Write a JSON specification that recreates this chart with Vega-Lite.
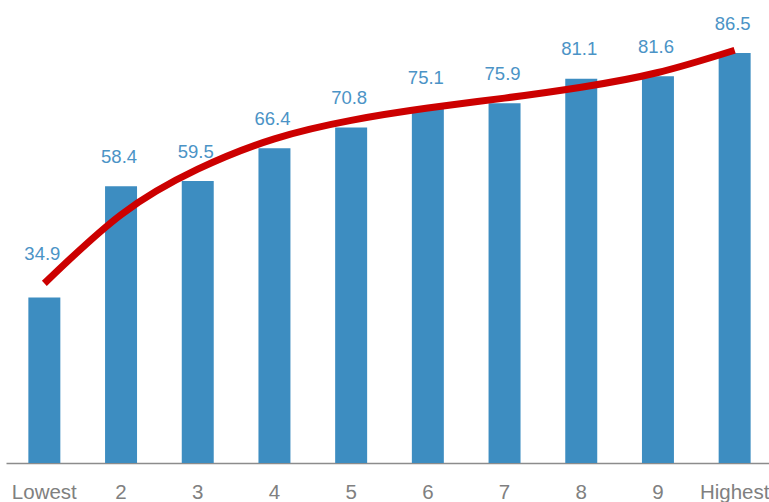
{
  "$schema": "https://vega.github.io/schema/vega-lite/v6.json",
  "autosize": "none",
  "padding": {"left": 6, "top": 0, "right": 0, "bottom": 39},
  "width": 767,
  "height": 463,
  "background": "white",
  "config": {"view": {"stroke": null}, "font": "Liberation Sans"},
  "data": {
    "values": [
      {"group": "Lowest", "value": 34.9, "trend": 37.9},
      {"group": "2", "value": 58.4, "trend": 52.4},
      {"group": "3", "value": 59.5, "trend": 62.0},
      {"group": "4", "value": 66.4, "trend": 68.4},
      {"group": "5", "value": 70.8, "trend": 72.3},
      {"group": "6", "value": 75.1, "trend": 74.9},
      {"group": "7", "value": 75.9, "trend": 77.0},
      {"group": "8", "value": 81.1, "trend": 79.3},
      {"group": "9", "value": 81.6, "trend": 82.4},
      {"group": "Highest", "value": 86.5, "trend": 87.1}
    ]
  },
  "encoding": {
    "x": {
      "field": "group",
      "type": "nominal",
      "sort": null,
      "scale": {"paddingInner": 0.583, "paddingOuter": 0.2915},
      "axis": {
        "title": null,
        "labelAngle": 0,
        "ticks": false,
        "labelPadding": 35,
        "labelBaseline": "alphabetic",
        "labelFontSize": 20.5,
        "labelColor": "#808080",
        "labelFont": "Liberation Sans",
        "domainColor": "#8c8c8c",
        "domainWidth": 1.5,
        "domainOpacity": 1,
        "grid": false
      }
    }
  },
  "layer": [
    {
      "mark": {"type": "bar", "color": "#3d8dc1"},
      "encoding": {
        "y": {
          "field": "value",
          "type": "quantitative",
          "scale": {"domain": [0, 97.7], "nice": false},
          "axis": null
        }
      }
    },
    {
      "mark": {"type": "line", "color": "#cc0000", "strokeWidth": 7, "interpolate": "natural", "strokeCap": "butt"},
      "encoding": {
        "y": {"field": "trend", "type": "quantitative"}
      }
    },
    {
      "transform": [{"calculate": "datum.trend - datum.value > 2.8 ? datum.trend : datum.value", "as": "labelpos"}],
      "mark": {"type": "text", "color": "#4b93c6", "fontSize": 18.5, "baseline": "alphabetic", "dy": -23.5, "dx": -2, "font": "Liberation Sans"},
      "encoding": {
        "y": {"field": "labelpos", "type": "quantitative"},
        "text": {"field": "value", "type": "quantitative", "format": ".1f"}
      }
    }
  ]
}
